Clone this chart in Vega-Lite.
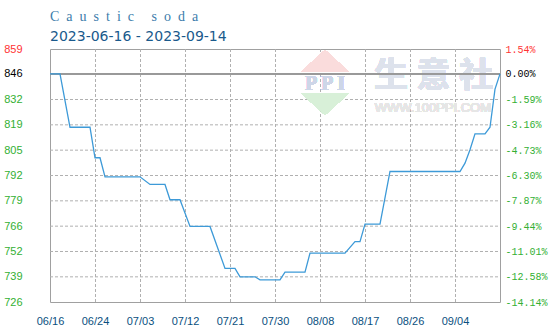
{
  "$schema": "https://vega.github.io/schema/vega-lite/v6.json",
  "width": 450,
  "height": 253,
  "autosize": {"type": "none"},
  "padding": {"left": 50, "top": 49, "right": 50, "bottom": 30},
  "background": "white",
  "title": {
    "text": "C\u2002a\u2002u\u2002s\u2002t\u2002i\u2002c\u2002 \u2002s\u2002o\u2002d\u2002a",
    "subtitle": "2023-06-16 - 2023-09-14",
    "anchor": "start",
    "frame": "group",
    "font": "Liberation Serif",
    "fontSize": 14,
    "fontWeight": "normal",
    "color": "#3b7cab",
    "subtitleFont": "DejaVu Sans",
    "subtitleFontSize": 14,
    "subtitleColor": "#1a5a8c",
    "subtitlePadding": 6,
    "offset": -1
  },
  "config": {
    "view": {"stroke": "#a0a0a0", "strokeWidth": 1},
    "axis": {"domain": false, "ticks": false}
  },
  "datasets": {
    "prices": [
      {"date": "2023-06-16", "price": 846},
      {"date": "2023-06-18", "price": 846},
      {"date": "2023-06-20", "price": 818},
      {"date": "2023-06-24", "price": 818},
      {"date": "2023-06-25", "price": 802},
      {"date": "2023-06-26", "price": 802},
      {"date": "2023-06-27", "price": 792},
      {"date": "2023-07-04", "price": 792},
      {"date": "2023-07-06", "price": 788},
      {"date": "2023-07-09", "price": 788},
      {"date": "2023-07-10", "price": 780},
      {"date": "2023-07-12", "price": 780},
      {"date": "2023-07-14", "price": 766},
      {"date": "2023-07-18", "price": 766},
      {"date": "2023-07-21", "price": 744},
      {"date": "2023-07-23", "price": 744},
      {"date": "2023-07-24", "price": 739.6},
      {"date": "2023-07-27", "price": 739.6},
      {"date": "2023-07-28", "price": 738},
      {"date": "2023-08-01", "price": 738},
      {"date": "2023-08-02", "price": 742},
      {"date": "2023-08-06", "price": 742},
      {"date": "2023-08-07", "price": 752},
      {"date": "2023-08-14", "price": 752},
      {"date": "2023-08-16", "price": 758},
      {"date": "2023-08-17", "price": 758},
      {"date": "2023-08-18", "price": 767.2},
      {"date": "2023-08-21", "price": 767.2},
      {"date": "2023-08-23", "price": 794.8},
      {"date": "2023-09-06", "price": 794.8},
      {"date": "2023-09-07", "price": 799.2},
      {"date": "2023-09-08", "price": 806.2},
      {"date": "2023-09-09", "price": 814.5},
      {"date": "2023-09-11", "price": 814.5},
      {"date": "2023-09-12", "price": 818},
      {"date": "2023-09-13", "price": 838},
      {"date": "2023-09-14", "price": 846}
    ],
    "gridticks": [
      {"tick": "2023-06-25"},
      {"tick": "2023-07-04"},
      {"tick": "2023-07-13"},
      {"tick": "2023-07-22"},
      {"tick": "2023-07-31"},
      {"tick": "2023-08-09"},
      {"tick": "2023-08-18"},
      {"tick": "2023-08-27"},
      {"tick": "2023-09-05"}
    ],
    "gridlevels": [
      {"level": 832.5486},
      {"level": 819.2664},
      {"level": 805.9842},
      {"level": 792.702},
      {"level": 779.4198},
      {"level": 766.1376},
      {"level": 752.8554},
      {"level": 739.5732}
    ]
  },
  "data": {"name": "prices"},
  "layer": [
    {
      "data": {"name": "gridticks"},
      "mark": {"type": "rule", "color": "#b0b0b0", "strokeWidth": 1, "strokeDash": [3, 2], "xOffset": 0.5},
      "encoding": {
        "x": {"field": "tick", "type": "temporal", "scale": {"type": "utc", "domain": [1686873600000, 1694649600000]}, "axis": null},
        "y": {"value": 0},
        "y2": {"value": 253}
      }
    },
    {
      "data": {"name": "gridlevels"},
      "mark": {"type": "rule", "color": "#b0b0b0", "strokeWidth": 1, "strokeDash": [3, 2]},
      "encoding": {
        "y": {"field": "level", "type": "quantitative", "scale": {"domain": [726.3756, 859.0284], "zero": false, "nice": false}, "axis": null},
        "x": {"value": 0},
        "x2": {"value": 450}
      }
    },
    {
      "mark": {"type": "point", "shape": "M0,-0.458L1,0.458L-1,0.458Z", "filled": true, "color": "#fadcdc", "opacity": 1, "size": 2304},
      "encoding": {
        "x": {"datum": 1691625600000, "type": "temporal", "scale": {"type": "utc", "domain": [1686873600000, 1694649600000]}, "axis": null},
        "y": {"datum": 852.7, "type": "quantitative", "scale": {"domain": [726.3756, 859.0284], "zero": false, "nice": false}, "axis": null}
      }
    },
    {
      "mark": {"type": "point", "shape": "M-1,-0.458L1,-0.458L0,0.458Z", "filled": true, "color": "#d8f0d8", "opacity": 1, "size": 2304},
      "encoding": {
        "x": {"datum": 1691625600000, "type": "temporal", "scale": {"type": "utc", "domain": [1686873600000, 1694649600000]}, "axis": null},
        "y": {"datum": 830.2, "type": "quantitative", "scale": {"domain": [726.3756, 859.0284], "zero": false, "nice": false}, "axis": null}
      }
    },
    {
      "mark": {"type": "text", "text": "P P I", "font": "Liberation Serif", "fontWeight": "bold", "fontSize": 20, "color": "#cdd6e8", "baseline": "middle", "align": "center"},
      "encoding": {
        "x": {"datum": 1691625600000, "type": "temporal", "scale": {"type": "utc", "domain": [1686873600000, 1694649600000]}, "axis": null},
        "y": {"datum": 840.9, "type": "quantitative", "scale": {"domain": [726.3756, 859.0284], "zero": false, "nice": false}, "axis": null}
      }
    },
    {
      "mark": {"type": "text", "text": "生\u2005意\u2005社", "font": "Noto Sans CJK SC", "fontWeight": "bold", "fontSize": 34, "color": "#dde2ec", "baseline": "middle", "align": "center"},
      "encoding": {
        "x": {"datum": 1693501200000, "type": "temporal", "scale": {"type": "utc", "domain": [1686873600000, 1694649600000]}, "axis": null},
        "y": {"datum": 844.2, "type": "quantitative", "scale": {"domain": [726.3756, 859.0284], "zero": false, "nice": false}, "axis": null}
      }
    },
    {
      "mark": {"type": "text", "text": "WWW.100PPI.COM", "font": "Liberation Sans", "fontSize": 13, "color": "#e6e6e6", "baseline": "middle", "align": "center"},
      "encoding": {
        "x": {"datum": 1693490400000, "type": "temporal", "scale": {"type": "utc", "domain": [1686873600000, 1694649600000]}, "axis": null},
        "y": {"datum": 828.1, "type": "quantitative", "scale": {"domain": [726.3756, 859.0284], "zero": false, "nice": false}, "axis": null}
      }
    },
    {
      "mark": {"type": "rule", "color": "#999999", "strokeWidth": 1},
      "encoding": {
        "y": {
          "datum": 846,
          "type": "quantitative",
          "scale": {"domain": [726.3756, 859.0284], "zero": false, "nice": false},
          "axis": {
            "orient": "right",
            "title": null,
            "values": [859.0284, 846, 832.5486, 819.2664, 805.9842, 792.702, 779.4198, 766.1376, 752.8554, 739.5732, 726.3756],
            "labelExpr": "(datum.value < 845.99 ? '-' : '') + format(abs((datum.value / 846 - 1) * 100), '.2f') + '%'",
            "grid": false,
            "labelFont": "Liberation Mono",
            "labelFontSize": 10,
            "labelPadding": 5,
            "labelBaseline": "middle",
            "labelOverlap": false,
            "labelColor": {"condition": [{"test": "datum.value > 850", "value": "#ff3333"}, {"test": "datum.value > 840", "value": "#000000"}], "value": "#33b033"}
          }
        }
      }
    },
    {
      "mark": {"type": "line", "color": "#3d9ad8", "strokeWidth": 1.3, "interpolate": "linear"},
      "encoding": {
        "x": {
          "field": "date",
          "type": "temporal",
          "scale": {"type": "utc", "domain": [1686873600000, 1694649600000]},
          "axis": {
            "title": null,
            "values": [1686873600000, 1687651200000, 1688428800000, 1689206400000, 1689984000000, 1690761600000, 1691539200000, 1692316800000, 1693094400000, 1693872000000],
            "labelExpr": "datum.value < 1687000000000 ? utcFormat(datum.value, '%m/%d') : utcFormat(datum.value - 86400000, '%m/%d')",
            "grid": false,
            "labelFont": "Liberation Sans",
            "labelFontSize": 11,
            "labelColor": "#0a5080",
            "labelPadding": 13,
            "labelOverlap": false,
            "labelFlush": false
          }
        },
        "y": {
          "field": "price",
          "type": "quantitative",
          "scale": {"domain": [726.3756, 859.0284], "zero": false, "nice": false},
          "axis": {
            "orient": "left",
            "title": null,
            "values": [859.0284, 846, 832.5486, 819.2664, 805.9842, 792.702, 779.4198, 766.1376, 752.8554, 739.5732, 726.3756],
            "labelExpr": "format(floor(datum.value), 'd')",
            "grid": false,
            "labelFont": "Liberation Sans",
            "labelFontSize": 11,
            "labelPadding": 28,
            "labelBaseline": "middle",
            "labelOverlap": false,
            "labelColor": {"condition": [{"test": "datum.value > 850", "value": "#ff3333"}, {"test": "datum.value > 840", "value": "#000000"}], "value": "#33b033"}
          }
        }
      }
    }
  ],
  "resolve": {"axis": {"x": "independent", "y": "independent"}}
}
